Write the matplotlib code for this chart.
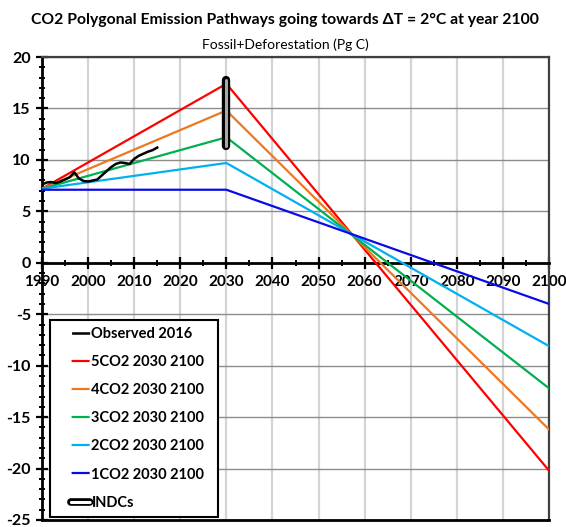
import matplotlib.pyplot as plt
from matplotlib.lines import Line2D
from matplotlib.ticker import MultipleLocator

plt.rcParams['font.family'] = ['Lato', 'DejaVu Sans']
plt.rcParams['font.weight'] = 'bold'
plt.rcParams['axes.unicode_minus'] = False
plt.rcParams['lines.scale_dashes'] = False

# Observed emissions (fossil + deforestation), Pg C per year
obs_years = list(range(1990, 2016))
observed = [7.6, 7.8, 7.85, 7.75, 7.9, 8.1, 8.3, 8.8, 8.2, 7.95,
            7.9, 8.0, 8.1, 8.5, 8.9, 9.3, 9.6, 9.75, 9.7, 9.6,
            10.1, 10.4, 10.6, 10.8, 10.95, 11.2]

# Polygonal pathways: vertices at 1990, 2030 and 2100
path_years = [1990, 2030, 2100]
path_5co2 = [7.2, 17.4, -20.2]
path_4co2 = [7.2, 14.8, -16.2]
path_3co2 = [7.2, 12.2, -12.2]
path_2co2 = [7.2, 9.7, -8.1]
path_1co2 = [7.1, 7.1, -4.0]
path_labels = ["5CO2 2030 2100", "4CO2 2030 2100", "3CO2 2030 2100",
               "2CO2 2030 2100", "1CO2 2030 2100"]
path_colors = ["#ff0000", "#ee7722", "#00b050", "#00b0f0", "#0a0ae6"]

# INDC range for 2030
indc_year = 2030
indc_low, indc_high = 11.4, 17.8

fig = plt.figure(figsize=(5.66, 5.27), dpi=100)
ax = fig.add_axes([0.0742, 0.0133, 0.8958, 0.8785])

ax.set_xlim(1990, 2100)
ax.set_ylim(-25, 20)

ax.xaxis.set_major_locator(MultipleLocator(10))
ax.xaxis.set_minor_locator(MultipleLocator(5))
ax.yaxis.set_major_locator(MultipleLocator(5))
ax.yaxis.set_minor_locator(MultipleLocator(1))

ax.grid(axis='x', which='major', color='#d4d4d4', linewidth=1.6, zorder=0)
ax.grid(axis='y', which='major', color='#8c8c8c', linewidth=1.0, zorder=0)
ax.set_axisbelow(True)

for vals, lab, col in zip([path_5co2, path_4co2, path_3co2, path_2co2, path_1co2],
                          path_labels, path_colors):
    ax.plot(path_years, vals, color=col, lw=1.6, label=lab, zorder=3)

ax.plot(obs_years, observed, color='black', lw=1.8, zorder=4,
        label='Observed 2016')

ax.plot([indc_year, indc_year], [indc_low, indc_high], color='black',
        lw=6, solid_capstyle='round', zorder=5)
ax.plot([indc_year, indc_year], [indc_low, indc_high], color='#a8a8a8',
        lw=2.2, solid_capstyle='round', zorder=6)

# axes frame
ax.spines['bottom'].set_position(('data', 0))
ax.spines['bottom'].set_linewidth(2.0)
ax.spines['left'].set_linewidth(2.0)
ax.spines['top'].set_color('#404040')
ax.spines['top'].set_linewidth(1.6)
ax.spines['right'].set_color('#404040')
ax.spines['right'].set_linewidth(1.6)
# lower frame edge at -25
ax.axhline(-25, color='black', lw=2.0, zorder=7, clip_on=False)

ax.tick_params(axis='both', which='major', direction='inout', length=8,
               width=1.6)
ax.tick_params(axis='x', which='major', labelsize=11, pad=5)
ax.tick_params(axis='y', which='major', labelsize=11.5, pad=4)
ax.tick_params(axis='both', which='minor', direction='inout', length=5,
               width=1.4)
for t in ax.get_xticklabels() + ax.get_yticklabels():
    t.set_fontweight('bold')

# legend: each handle sits after a short blank gap (dash offset)
gap_pt, seg_pt = 10.5, 13.0
handle_ls = (seg_pt, (seg_pt, gap_pt))
handles = [Line2D([], [], color='black', lw=1.8, linestyle=handle_ls)]
for col in path_colors:
    handles.append(Line2D([], [], color=col, lw=1.6, linestyle=handle_ls))
pill_ls = (13.5, (13.5, 10.0))
indc_outer = Line2D([], [], color='black', lw=5.5, linestyle=pill_ls,
                    dash_capstyle='round')
indc_inner = Line2D([], [], color='white', lw=2.2, linestyle=pill_ls,
                    dash_capstyle='round')
handles.append((indc_outer, indc_inner))
labels = ['Observed 2016'] + path_labels + ['INDCs']
leg_fs = 10.5
leg = ax.legend(handles, labels, loc='lower left', mode='expand',
                bbox_to_anchor=(0.0158, 0.0065, 0.331, 0.0),
                prop={'weight': 'bold', 'size': leg_fs},
                handlelength=(gap_pt + seg_pt) / leg_fs, handletextpad=0.1,
                labelspacing=0.97, borderpad=0.5, fancybox=False,
                framealpha=1, edgecolor='black', borderaxespad=0)
leg.get_frame().set_linewidth(1.5)
leg.set_zorder(10)

title = fig.text(0.5, 0.962,
                 'CO2 Polygonal Emission Pathways going towards \u0394T = 2\u00b0C at year 2100',
                 ha='center', va='center', fontsize=13, fontweight='bold')
fig.text(0.505, 0.916, 'Fossil+Deforestation (Pg C)', ha='center', va='center',
         fontsize=10, fontweight='normal')

# fit the title to the available width
renderer = fig.canvas.get_renderer()
w = title.get_window_extent(renderer).width
title.set_fontsize(13 * 505.0 / w)
title.set_x(285 / 566)

fig.savefig('out.png', dpi=100)
